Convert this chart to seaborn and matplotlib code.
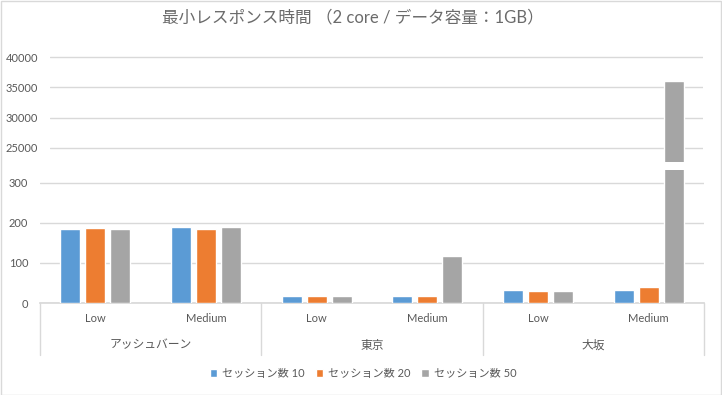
import matplotlib
matplotlib.use('Agg')
import matplotlib.pyplot as plt
import matplotlib.transforms as mtransforms
from matplotlib.patches import Rectangle
import seaborn as sns
import pandas as pd

regions = ['アッシュバーン', '東京', '大坂']
loads = ['Low', 'Medium']
sessions = ['セッション数 10', 'セッション数 20', 'セッション数 50']
colors = ['#5B9BD5', '#ED7D31', '#A5A5A5']

# values per region/load, one list per session count
sess10 = [185, 190, 17, 17, 32, 32]
sess20 = [187, 185, 17, 17, 30, 40]
sess50 = [185, 190, 17, 117, 30, 36000]

low_ticks = [0, 100, 200, 300]
high_ticks = [25000, 30000, 35000, 40000]

sns.set_theme(style='white')
plt.rcParams['font.family'] = ['Lato', 'Noto Sans CJK JP', 'DejaVu Sans']
txt = '#595959'
grid = '#D9D9D9'

rows = []
for i, r in enumerate(regions):
    for j, l in enumerate(loads):
        k = i * 2 + j
        for s, vals in zip(sessions, [sess10, sess20, sess50]):
            rows.append({'cat': f'{r}|{l}', 'load': l, 'session': s, 'value': vals[k]})
df = pd.DataFrame(rows)
order = [f'{r}|{l}' for r in regions for l in loads]

W, H = 722, 395
fig = plt.figure(figsize=(W / 100, H / 100), dpi=100)
fig.patch.set_facecolor('white')

# lower (broken) panel
ax = fig.add_axes([40 / W, 92 / H, 664 / W, 133 / H])
sns.barplot(data=df, x='cat', y='value', hue='session', order=order, hue_order=sessions,
            palette=colors, saturation=1, width=0.675, gap=0.2, ax=ax, errorbar=None,
            legend=True, zorder=3)
ax.set_ylim(0, 332)
ax.set_xlim(-0.5, 5.5)
ax.set_yticks(low_ticks)
ax.yaxis.grid(True, color=grid, linewidth=1)
ax.set_axisbelow(True)
for sp in ['top', 'right', 'left']:
    ax.spines[sp].set_visible(False)
ax.spines['bottom'].set_color(grid)
ax.set_xlabel('')
ax.set_ylabel('')
ax.set_xticks(range(len(order)))
ax.set_xticklabels([c.split('|')[1] for c in order])
ax.tick_params(axis='x', length=0, pad=7, labelsize=8, labelcolor=txt)
ax.tick_params(axis='y', length=0, pad=8.5, labelsize=8, labelcolor=txt)

trans = mtransforms.blended_transform_factory(ax.transData, ax.transAxes)
for b in [-0.5, 1.5, 3.5, 5.5]:
    ax.plot([b, b], [0, -0.39], transform=trans, color=grid, lw=1, clip_on=False)
for i, r in enumerate(regions):
    ax.text(i * 2 + 0.5, -0.316, r, transform=trans, ha='center', va='center',
            fontsize=8.5, color=txt)

handles, labels = ax.get_legend_handles_labels()
ax.get_legend().remove()
fig.legend(handles, labels, loc='center', bbox_to_anchor=(363 / W, 22 / H), ncol=3,
           frameon=False, fontsize=8, handlelength=0.7, handleheight=0.7,
           handletextpad=0.4, columnspacing=1.0, labelcolor=txt)

# upper panel for the large value
ax2 = fig.add_axes([50 / W, 233 / H, 653 / W, 117 / H])
sns.barplot(data=df, x='cat', y='value', hue='session', order=order, hue_order=sessions,
            palette=colors, saturation=1, width=0.675, gap=0.2, ax=ax2, errorbar=None,
            legend=False, zorder=3)
ax2.set_ylim(22667, 42000)
ax2.set_xlim(-0.5 + 10 / 110.67, -0.5 + 663 / 110.67)
ax2.set_yticks(high_ticks)
ax2.yaxis.grid(True, color=grid, linewidth=1)
ax2.set_axisbelow(True)
for sp in ax2.spines.values():
    sp.set_visible(False)
ax2.set_xticks([])
ax2.set_xlabel('')
ax2.set_ylabel('')
ax2.tick_params(axis='y', length=0, pad=8.5, labelsize=8, labelcolor=txt)

fig.text(353 / W, 1 - 17 / H, '最小レスポンス時間 （2 core / データ容量：1GB）',
         ha='center', va='center', fontsize=12, color='#6b6b6b')

fig.add_artist(Rectangle((0.5 / W, 0.5 / H), 1 - 1.5 / W, 1 - 1.5 / H,
                         transform=fig.transFigure, fill=False, edgecolor=grid, lw=1))

fig.savefig('out.png', dpi=100)
